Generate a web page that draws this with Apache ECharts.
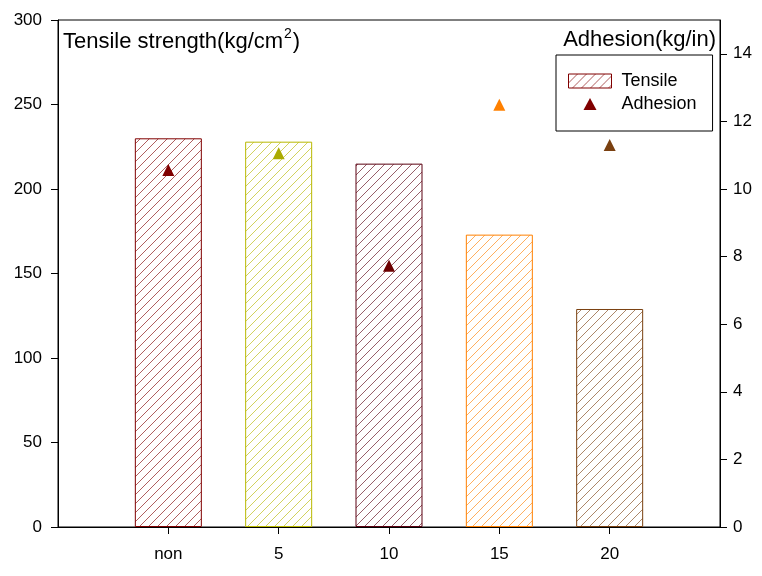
<!DOCTYPE html>
<html>
<head>
<meta charset="utf-8">
<script src="https://cdn.jsdelivr.net/npm/echarts@6/dist/echarts.min.js"></script>
<style>html,body{margin:0;padding:0;background:#fff}#c{width:762px;height:576px}</style>
</head>
<body>
<div id="c"></div>
<script>
var categories = ['non', '5', '10', '15', '20'];
var tensile = [230, 228, 215, 173, 129];
var adhesion = [10.56, 11.06, 7.73, 12.49, 11.30];
var barColors = ['#800000', '#b8b800', '#5a0010', '#ff8000', '#7a4010'];
var markColors = ['#800000', '#aaaa00', '#6b0000', '#ff8000', '#7a4010'];
var leftTicks = [0, 50, 100, 150, 200, 250, 300];
var rightTicks = [0, 2, 4, 6, 8, 10, 12, 14];

function hatch(color) {
  var s = 9;
  var c = document.createElement('canvas');
  c.width = s; c.height = s;
  var g = c.getContext('2d');
  g.fillStyle = '#ffffff';
  g.fillRect(0, 0, s, s);
  g.strokeStyle = color;
  g.globalAlpha = 0.7;
  g.lineWidth = 0.9;
  g.beginPath();
  g.moveTo(-1, s + 1); g.lineTo(s + 1, -1);
  g.moveTo(-1, 1); g.lineTo(1, -1);
  g.moveTo(s - 1, s + 1); g.lineTo(s + 1, s - 1);
  g.stroke();
  return { image: c, repeat: 'repeat' };
}

var font = 'Liberation Sans, Arial, sans-serif';
var barData = categories.map(function (c, i) {
  return {
    value: [i + 1, tensile[i]],
    itemStyle: { color: hatch(barColors[i]), borderColor: barColors[i], borderWidth: 1 }
  };
});
var scatterData = categories.map(function (c, i) {
  return { value: [i + 1, adhesion[i]], itemStyle: { color: markColors[i], opacity: 1 } };
});

var chart = echarts.init(document.getElementById('c'));
chart.setOption({
  animation: false,
  backgroundColor: '#ffffff',
  grid: { left: 58, right: 42, top: 20, bottom: 49, show: true, borderColor: '#000', borderWidth: 1, backgroundColor: 'transparent' },
  legend: {
    orient: 'vertical',
    left: 556, top: 55,
    padding: [17, 16, 18, 12],
    itemGap: 5,
    itemWidth: 43, itemHeight: 14,
    borderColor: '#000', borderWidth: 1,
    textStyle: { fontFamily: font, fontSize: 18, color: '#000', padding: [0, 0, 0, 5] },
    data: [
      { name: 'Tensile', icon: 'rect', itemStyle: { color: hatch('#800000'), borderColor: '#800000', borderWidth: 1 } },
      { name: 'Adhesion', icon: 'path://M0,0M43,14M21.5,1L28,13L15,13Z', itemStyle: { color: '#800000', opacity: 1 } }
    ]
  },
  xAxis: {
    type: 'value', min: 0, max: 6, interval: 1,
    axisLine: { show: true, lineStyle: { color: '#000' } },
    axisTick: { show: true, length: 7, lineStyle: { color: '#000' }, customValues: [1, 2, 3, 4, 5] },
    axisLabel: {
      customValues: [1, 2, 3, 4, 5], margin: 19,
      fontFamily: font, fontSize: 17, color: '#000',
      formatter: function (v) { return categories[Math.round(v) - 1] || ''; }
    },
    splitLine: { show: false }
  },
  yAxis: [
    {
      type: 'value', min: 0, max: 300, interval: 50,
      axisLine: { show: true, lineStyle: { color: '#000' } },
      axisTick: { show: true, length: 7, lineStyle: { color: '#000' }, customValues: leftTicks },
      axisLabel: { customValues: leftTicks, margin: 16, fontFamily: font, fontSize: 17, color: '#000' },
      splitLine: { show: false }
    },
    {
      type: 'value', min: 0, max: 15, interval: 2, position: 'right',
      axisLine: { show: true, lineStyle: { color: '#000' } },
      axisTick: { show: true, length: 7, lineStyle: { color: '#000' }, customValues: rightTicks },
      axisLabel: { customValues: rightTicks, margin: 13, fontFamily: font, fontSize: 17, color: '#000' },
      splitLine: { show: false }
    }
  ],
  graphic: [
    {
      type: 'text', left: 63, top: 27,
      style: {
        text: '{a|Tensile strength(kg/cm}{s|2}{a|)}',
        rich: {
          a: { fontFamily: font, fontSize: 22, fill: '#000', verticalAlign: 'bottom', lineHeight: 26 },
          s: { fontFamily: font, fontSize: 14, fill: '#000', verticalAlign: 'top', lineHeight: 26, padding: [0, 1, 12, 1] }
        }
      }
    },
    {
      type: 'text', right: 46, top: 29,
      style: { text: 'Adhesion(kg/in)', fontFamily: font, fontSize: 22, fill: '#000' }
    }
  ],
  series: [
    { name: 'Tensile', type: 'bar', xAxisIndex: 0, yAxisIndex: 0, barWidth: 67, data: barData },
    { name: 'Adhesion', type: 'scatter', xAxisIndex: 0, yAxisIndex: 1, symbol: 'triangle', symbolSize: 12, itemStyle: { opacity: 1 }, data: scatterData, z: 5 }
  ]
});
</script>
</body>
</html>
